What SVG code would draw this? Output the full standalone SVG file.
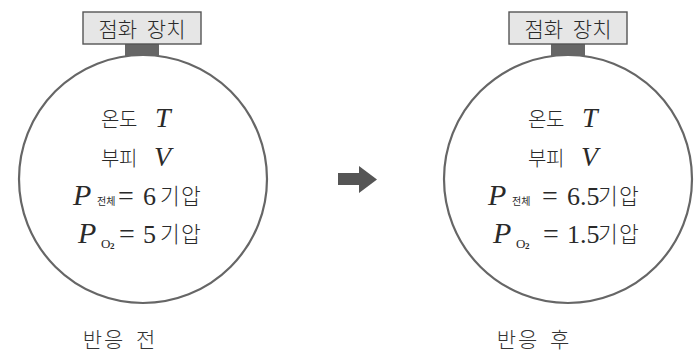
<svg xmlns="http://www.w3.org/2000/svg" width="698" height="355" viewBox="0 0 698 355">
<style>
.vessel{fill:#fff;stroke:#666;stroke-width:2.2}
.box{fill:#e6e6e6;stroke:#555;stroke-width:1.4}
.neck{fill:#666}
text{fill:#2a2a2a}
.kr{font-family:"Noto Sans CJK KR","Noto Sans",sans-serif;font-size:20px;font-weight:300}
.kr2{font-family:"Noto Sans CJK KR","Noto Sans",sans-serif;font-size:21.5px;font-weight:300}
.lbl{font-family:"Noto Sans CJK KR",sans-serif;font-size:21px;font-weight:300;word-spacing:5px}
.m{font-family:"Liberation Serif","DejaVu Serif",serif;font-style:italic;font-size:28px}
.p{font-family:"Liberation Serif","DejaVu Serif",serif;font-style:italic;font-size:30px}
.n{font-family:"Liberation Serif","DejaVu Serif",serif;font-size:26px}
.eq{font-family:"Liberation Serif","DejaVu Serif",serif;font-size:28px}
.sub{font-family:"Noto Sans CJK KR",sans-serif;font-size:10px}
.subo{font-family:"Liberation Serif",serif;font-size:13px}
.two{font-family:"Liberation Serif",serif;font-size:9px;font-weight:bold}
.cap{font-family:"Noto Sans CJK KR",sans-serif;font-size:21px;font-weight:300;fill:#333;letter-spacing:2px;word-spacing:4px}
</style>
<g id="before">
<rect class="neck" x="125" y="43" width="34" height="13"/>
<circle class="vessel" cx="143" cy="179" r="124"/>
<rect class="box" x="83" y="12" width="118" height="32"/>
<text class="lbl" x="142" y="37" text-anchor="middle">점화 장치</text>
<text y="127"><tspan class="kr" x="101">온</tspan><tspan class="kr" x="119">도</tspan><tspan class="m" x="155">T</tspan></text>
<text y="166"><tspan class="kr" x="101">부</tspan><tspan class="kr" x="119">피</tspan><tspan class="m" x="154">V</tspan></text>
<text y="205"><tspan class="p" x="73">P</tspan><tspan class="sub" x="97" y="205">전체</tspan><tspan class="eq" x="118" y="205">=</tspan><tspan class="n" x="143">6</tspan><tspan class="kr2" x="160" y="204">기</tspan><tspan class="kr2" x="181">압</tspan></text>
<text y="243"><tspan class="p" x="78">P</tspan><tspan class="subo" x="101" y="248">O</tspan><tspan class="two" x="110" y="249">2</tspan><tspan class="eq" x="119" y="243">=</tspan><tspan class="n" x="143">5</tspan><tspan class="kr2" x="160" y="242">기</tspan><tspan class="kr2" x="181">압</tspan></text>
<text class="cap" x="120" y="347" text-anchor="middle">반응 전</text>
</g>
<g id="after">
<rect class="neck" x="551" y="43" width="34" height="13"/>
<circle class="vessel" cx="568" cy="179" r="124"/>
<rect class="box" x="509" y="12" width="118" height="32"/>
<text class="lbl" x="568" y="37" text-anchor="middle">점화 장치</text>
<text y="127"><tspan class="kr" x="528">온</tspan><tspan class="kr" x="546">도</tspan><tspan class="m" x="582">T</tspan></text>
<text y="166"><tspan class="kr" x="528">부</tspan><tspan class="kr" x="546">피</tspan><tspan class="m" x="581">V</tspan></text>
<text y="205"><tspan class="p" x="488">P</tspan><tspan class="sub" x="512" y="205">전체</tspan><tspan class="eq" x="542" y="205">=</tspan><tspan class="n" x="567">6.5</tspan><tspan class="kr2" x="598" y="204">기</tspan><tspan class="kr2" x="619">압</tspan></text>
<text y="243"><tspan class="p" x="493">P</tspan><tspan class="subo" x="516" y="248">O</tspan><tspan class="two" x="525" y="249">2</tspan><tspan class="eq" x="543" y="243">=</tspan><tspan class="n" x="567">1.5</tspan><tspan class="kr2" x="598" y="242">기</tspan><tspan class="kr2" x="619">압</tspan></text>
<text class="cap" x="534" y="347" text-anchor="middle">반응 후</text>
</g>
<g id="connectors">
<polygon points="338,173 359,173 359,166 377,179.5 359,193 359,185 338,185" fill="#555"/>
</g>
</svg>
